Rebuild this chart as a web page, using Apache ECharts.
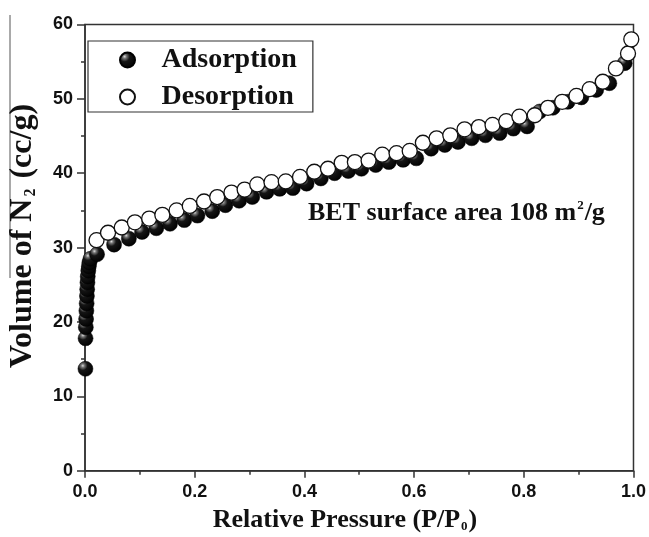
<!DOCTYPE html>
<html>
<head>
<meta charset="utf-8">
<style>
  html, body { margin: 0; padding: 0; background: #fff; }
  #chart { width: 649px; height: 537px; }
</style>
<script src="https://cdn.jsdelivr.net/npm/echarts@6/dist/echarts.min.js"></script>
</head>
<body>
<div id="chart"></div>
<script>
// adsorption branch (P/P0, cc/g)
const adsX = [0.0008, 0.001, 0.0015, 0.002, 0.0025, 0.003, 0.0035, 0.004, 0.0045, 0.005, 0.006, 0.007, 0.008, 0.010,
  0.022, 0.053, 0.080, 0.104, 0.130, 0.155, 0.181, 0.205, 0.232, 0.256, 0.281, 0.305, 0.331, 0.355, 0.379,
  0.404, 0.430, 0.455, 0.480, 0.504, 0.530, 0.554, 0.580, 0.604, 0.631, 0.656, 0.680, 0.705, 0.730, 0.756,
  0.781, 0.806, 0.829, 0.853, 0.880, 0.905, 0.932, 0.956, 0.984];
const adsY = [13.7, 17.8, 19.3, 20.4, 21.5, 22.5, 23.5, 24.4, 25.3, 26.1, 26.9, 27.5, 28.0, 28.5,
  29.1, 30.4, 31.2, 32.1, 32.6, 33.2, 33.7, 34.3, 34.9, 35.7, 36.3, 36.8, 37.5, 37.9, 38.0,
  38.6, 39.3, 40.0, 40.3, 40.6, 41.1, 41.5, 41.8, 42.0, 43.3, 43.8, 44.2, 44.7, 45.1, 45.4,
  46.0, 46.3, 48.3, 48.8, 49.6, 50.2, 51.2, 52.1, 54.8];

// desorption branch
const desX = [0.021, 0.042, 0.067, 0.091, 0.117, 0.141, 0.167, 0.191, 0.217, 0.241, 0.267, 0.291, 0.314,
  0.340, 0.366, 0.392, 0.418, 0.443, 0.468, 0.492, 0.517, 0.542, 0.568, 0.592, 0.616, 0.641, 0.666,
  0.692, 0.718, 0.743, 0.768, 0.792, 0.820, 0.844, 0.870, 0.896, 0.920, 0.944, 0.968, 0.990, 0.996];
const desY = [31.0, 32.0, 32.7, 33.4, 33.9, 34.4, 35.0, 35.6, 36.2, 36.8, 37.4, 37.8, 38.5,
  38.8, 38.9, 39.5, 40.2, 40.6, 41.4, 41.5, 41.7, 42.5, 42.7, 43.0, 44.1, 44.7, 45.1,
  45.9, 46.2, 46.5, 47.0, 47.6, 47.8, 48.8, 49.6, 50.4, 51.3, 52.3, 54.1, 56.1, 58.0];

const seriesNames = ['Adsorption', 'Desorption'];

const SERIF = '"Liberation Serif", "Times New Roman", serif';
const SANS = '"Liberation Sans", Arial, sans-serif';

const pairs = (xs, ys) => xs.map((x, i) => [x, ys[i]]);

// shaded black ball, small highlight at top left
const ball = {
  type: 'radial', x: 0.33, y: 0.3, r: 0.75,
  colorStops: [
    { offset: 0, color: '#dddddd' },
    { offset: 0.15, color: '#777777' },
    { offset: 0.4, color: '#151515' },
    { offset: 1, color: '#000000' }
  ]
};

const chart = echarts.init(document.getElementById('chart'));

chart.setOption({
  animation: false,
  backgroundColor: '#fff',
  grid: {
    left: 85, right: 15, top: 24.5, bottom: 66.3,
    show: true, borderColor: '#333', borderWidth: 1.5, backgroundColor: 'transparent'
  },
  legend: {
    orient: 'vertical',
    left: 88, top: 41,
    borderColor: '#333', borderWidth: 1.2,
    padding: [5, 16, 1, 31],
    itemWidth: 50, itemHeight: 15, itemGap: 9,
    textStyle: { fontFamily: SERIF, fontWeight: 'bold', fontSize: 28, lineHeight: 28, color: '#111', padding: [0, 0, 0, 4] },
    data: seriesNames
  },
  xAxis: {
    type: 'value', min: 0, max: 1, interval: 0.2,
    axisLine: { lineStyle: { color: '#333', width: 1.5 } },
    axisTick: { show: true, inside: false, length: 7, lineStyle: { color: '#333', width: 1.5 } },
    minorTick: { show: true, splitNumber: 2, length: 4, lineStyle: { color: '#333', width: 1.5 } },
    splitLine: { show: false },
    axisLabel: {
      margin: 12, fontFamily: SANS, fontWeight: 'bold', fontSize: 18, color: '#111',
      formatter: v => v.toFixed(1)
    }
  },
  yAxis: {
    type: 'value', min: 0, max: 60, interval: 10,
    axisLine: { show: true, lineStyle: { color: '#333', width: 1.5 } },
    axisTick: { show: true, inside: false, length: 8, lineStyle: { color: '#333', width: 1.5 } },
    minorTick: { show: true, splitNumber: 2, length: 4, lineStyle: { color: '#333', width: 1.5 } },
    splitLine: { show: false },
    axisLabel: { margin: 12, fontFamily: SANS, fontWeight: 'bold', fontSize: 18, color: '#111' }
  },
  series: [
    {
      name: seriesNames[0],
      type: 'scatter',
      symbol: 'circle',
      symbolSize: 15,
      itemStyle: { color: ball, borderColor: '#000', borderWidth: 0.5, opacity: 1 },
      data: pairs(adsX, adsY),
      z: 2
    },
    {
      name: seriesNames[1],
      type: 'scatter',
      symbol: 'circle',
      symbolSize: 15,
      itemStyle: { color: '#fff', borderColor: '#111', borderWidth: 1.3, opacity: 1 },
      data: pairs(desX, desY),
      z: 3
    }
  ],
  graphic: [
    {
      type: 'line',
      shape: { x1: 10, y1: 15, x2: 10, y2: 278 },
      style: { stroke: '#555', lineWidth: 1 }
    },
    {
      type: 'text',
      x: 23, y: 236, rotation: Math.PI / 2,
      style: {
        text: '{a|Volume of N}{s|2}{a| (cc/g)}',
        align: 'center', verticalAlign: 'middle',
        rich: {
          a: { fontFamily: SERIF, fontWeight: 'bold', fontSize: 32, fill: '#111' },
          s: { fontFamily: SERIF, fontWeight: 'bold', fontSize: 16, fill: '#111', padding: [15, 2, 0, 2] }
        }
      }
    },
    {
      type: 'text',
      x: 345, y: 520,
      style: {
        text: '{a|Relative Pressure (P/P}{s|0}{a|)}',
        align: 'center', verticalAlign: 'middle',
        rich: {
          a: { fontFamily: SERIF, fontWeight: 'bold', fontSize: 26, fill: '#111' },
          s: { fontFamily: SERIF, fontWeight: 'bold', fontSize: 13, fill: '#111', padding: [14, 1, 0, 1] }
        }
      }
    },
    {
      type: 'text',
      x: 308, y: 213,
      style: {
        text: '{a|BET surface area 108 m}{s|2}{a|/g}',
        align: 'left', verticalAlign: 'middle',
        rich: {
          a: { fontFamily: SERIF, fontWeight: 'bold', fontSize: 26, fill: '#111' },
          s: { fontFamily: SERIF, fontWeight: 'bold', fontSize: 13, fill: '#111', padding: [0, 1, 14, 1] }
        }
      }
    }
  ]
});
</script>
</body>
</html>
